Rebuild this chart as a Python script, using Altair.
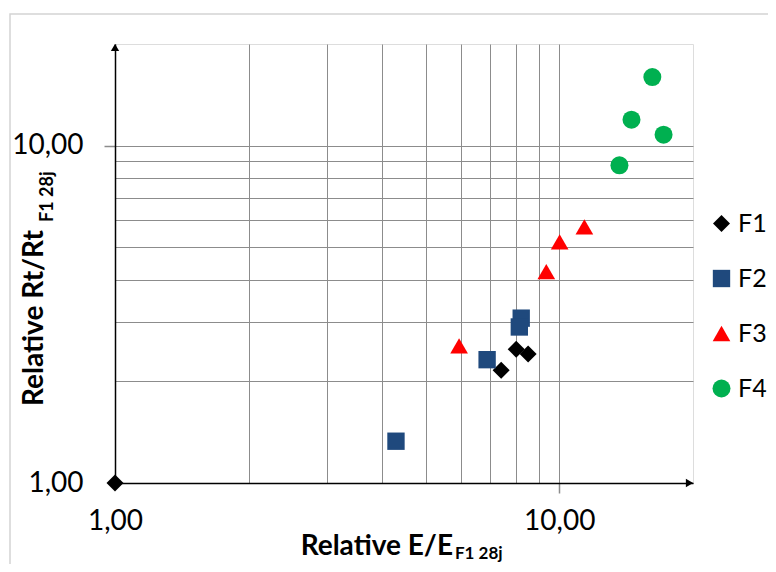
import altair as alt
import pandas as pd

# ---- data ----
series = ["F1", "F1", "F1", "F1",
          "F2", "F2", "F2", "F2",
          "F3", "F3", "F3", "F3",
          "F4", "F4", "F4", "F4"]
rel_E = [1.00, 7.40, 8.00, 8.51,
         4.29, 6.88, 8.21, 8.13,
         5.95, 9.35, 10.02, 11.39,
         16.2, 14.54, 17.17, 13.66]
rel_Rt = [1.00, 2.16, 2.49, 2.41,
          1.33, 2.32, 3.08, 2.90,
          2.55, 4.23, 5.18, 5.74,
          15.96, 11.93, 10.77, 8.74]

series_names = ["F1", "F2", "F3", "F4"]
series_colors = ["#000000", "#1F497D", "#FF0000", "#00B050"]
series_shapes = ["diamond", "square", "triangle-up", "circle"]
series_sizes = [290, 324, 380, 361]

grid_values = [1, 2, 3, 4, 5, 6, 7, 8, 9, 10]
tick_label_values = [1, 10]
tick_label_texts = ["1,00", "10,00"]

x_title = "Relative E/E"
x_title_sub = "F1 28j"
y_title = "Relative Rt/Rt"
y_title_sub = "F1 28j"

df = pd.DataFrame({"series": series, "E": rel_E, "Rt": rel_Rt})

W, H = 578, 439
FONT = "Lato"

label_expr = " : ".join(
    f"datum.value == {v} ? '{t}'" for v, t in zip(tick_label_values, tick_label_texts)
) + " : ''"
tick_cond = {"condition": {"test": "datum.value == 10", "value": 1}, "value": 0}

x_scale = alt.Scale(type="log", domain=[1, 20], nice=False)
y_scale = alt.Scale(type="log", domain=[1, 20], nice=False)

x_axis = alt.Axis(values=grid_values, labelExpr=label_expr, title=None,
                  grid=True, gridColor="#8c8c8c", gridWidth=1,
                  domainColor="#000000", domainWidth=1.5,
                  tickColor="#8c8c8c", tickSize=10, tickWidth=1.5, tickOpacity=tick_cond,
                  labelFont=FONT, labelFontSize=28, labelColor="#000000",
                  labelPadding=14, labelFlush=False, labelOverlap=False)
y_axis = alt.Axis(values=grid_values, labelExpr=label_expr, title=None,
                  grid=True, gridColor="#8c8c8c", gridWidth=1,
                  domainColor="#000000", domainWidth=1.5,
                  tickColor="#8c8c8c", tickSize=11, tickWidth=1.5, tickOpacity=tick_cond,
                  labelFont=FONT, labelFontSize=28, labelColor="#000000",
                  labelPadding=21, labelOverlap=False)

one = pd.DataFrame({"a": [0]})

frame = alt.Chart(one).mark_rect(filled=False, stroke="#d4d4d4", strokeWidth=1.5).encode(
    x=alt.value(-105), y=alt.value(-30), x2=alt.value(900), y2=alt.value(900))

points = alt.Chart(df).mark_point(filled=True, opacity=1, strokeWidth=0).encode(
    x=alt.X("E:Q", scale=x_scale, axis=x_axis),
    y=alt.Y("Rt:Q", scale=y_scale, axis=y_axis),
    color=alt.Color("series:N", scale=alt.Scale(domain=series_names, range=series_colors),
                    legend=alt.Legend(title=None, orient="none", legendX=594, legendY=167,
                                      labelFont=FONT, labelFontSize=25, labelColor="#000000",
                                      symbolSize=250, symbolStrokeWidth=0, rowPadding=29,
                                      labelOffset=4, padding=0)),
    shape=alt.Shape("series:N", scale=alt.Scale(domain=series_names, range=series_shapes)),
    size=alt.Size("series:N", scale=alt.Scale(domain=series_names, range=series_sizes), legend=None),
)

arrow_x = alt.Chart(one).mark_point(filled=True, shape="triangle-right", size=70,
                                    color="#000000", opacity=1).encode(
    x=alt.value(W - 3.5), y=alt.value(H))
arrow_y = alt.Chart(one).mark_point(filled=True, shape="triangle-up", size=70,
                                    color="#000000", opacity=1).encode(
    x=alt.value(0), y=alt.value(3.5))

xt = alt.Chart(pd.DataFrame({"t": [x_title]})).mark_text(
    font=FONT, fontSize=28, fontWeight="bold", align="right", baseline="alphabetic",
    color="#000000").encode(text="t:N", x=alt.value(338), y=alt.value(511))
xts = alt.Chart(pd.DataFrame({"t": [x_title_sub]})).mark_text(
    font=FONT, fontSize=17, fontWeight="bold", align="left", baseline="alphabetic",
    color="#000000").encode(text="t:N", x=alt.value(340), y=alt.value(515))
yt = alt.Chart(pd.DataFrame({"t": [y_title]})).mark_text(
    font=FONT, fontSize=28, fontWeight="bold", align="right", baseline="alphabetic",
    angle=270, color="#000000").encode(text="t:N", x=alt.value(-72), y=alt.value(186))
yts = alt.Chart(pd.DataFrame({"t": [y_title_sub]})).mark_text(
    font=FONT, fontSize=18, fontWeight="bold", align="left", baseline="alphabetic",
    angle=270, color="#000000").encode(text="t:N", x=alt.value(-62), y=alt.value(178))

chart = alt.layer(frame, points, arrow_x, arrow_y, xt, xts, yt, yts).properties(
    width=W, height=H,
    autosize=alt.AutoSizeParams(type="none"),
    padding={"left": 107, "top": 36, "right": 75, "bottom": 81},
).configure_view(stroke="#a6a6a6", strokeWidth=1.5).configure(background="#ffffff")

chart.save("out.html", embed_options={"renderer": "svg", "actions": False})
